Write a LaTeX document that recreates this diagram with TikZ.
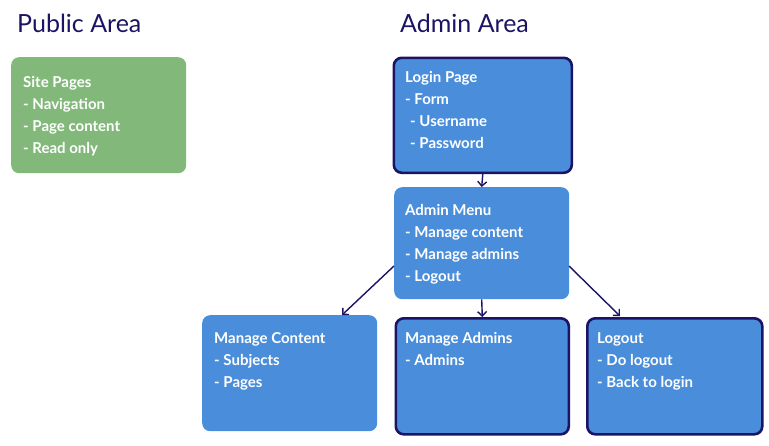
\documentclass[tikz,border=0pt]{standalone}
\usepackage{fontspec}
\setmainfont{Lato}
\usetikzlibrary{arrows.meta}
\definecolor{navy}{HTML}{1B1464}
\definecolor{boxblue}{HTML}{4A8EDB}
\definecolor{boxgreen}{HTML}{82B97B}
\begin{document}
\begin{tikzpicture}[x=1pt,y=-1pt,
  card/.style={rounded corners=8pt, inner sep=0pt, anchor=north west,
               minimum width=175pt, minimum height=116pt},
  bluecard/.style={card, fill=boxblue},
  edged/.style={draw=navy, line width=2.6pt},
  % multi-line texts are placed by the baseline of their last line
  cardtext/.style={anchor=base west, inner sep=0pt, align=left, text=white,
                   font=\fontsize{15}{22}\selectfont\bfseries},
  areatitle/.style={anchor=base west, inner sep=0pt, text=navy,
                    font=\fontsize{25}{30}\selectfont},
  link/.style={draw=navy, line width=1.4pt, -{Straight Barb[length=4.5pt,width=9pt]}}]
\useasboundingbox[fill=white] (0,0) rectangle (769,445);

% section headings
\node[areatitle] (pubT) at (17,32) {Public Area};
\node[areatitle] (admT) at (400,32) {Admin Area};

% cards
\node[card, fill=boxgreen] (site) at (11,57) {};
\node[bluecard, edged, minimum width=178pt, minimum height=115pt] (login) at (392.5,56.5) {};
\node[bluecard, minimum height=112pt] (menu) at (394,187) {};
\node[bluecard] (content) at (202,315) {};
\node[bluecard, edged, minimum width=173pt, minimum height=116pt] (admins) at (394.5,317) {};
\node[bluecard, edged, minimum width=175pt, minimum height=116pt] (logout) at (586,317) {};

% card texts
\node[cardtext] (siteT) at (23,153) {Site Pages\\- Navigation\\- Page content\\- Read only};
\node[cardtext] (loginT) at (405,148) {Login Page\\- Form\\\hspace*{5pt}- Username\\\hspace*{5pt}- Password};
\node[cardtext] (menuT) at (405,281) {Admin Menu\\- Manage content\\- Manage admins\\- Logout};
\node[cardtext] (contentT) at (214,387) {Manage Content\\- Subjects\\- Pages};
\node[cardtext] (adminsT) at (405,365) {Manage Admins\\- Admins};
\node[cardtext] (logoutT) at (597,387) {Logout\\- Do logout\\- Back to login};

% connector ends
\coordinate (menuL) at (394,266);
\coordinate (menuR) at (569,266);
\coordinate (contentIn) at (342,315);
\coordinate (logoutIn) at (620,316);

% connectors
\draw[link] (login.south) -- (menu.north);
\draw[link] (menuL) -- (contentIn);
\draw[link] (menu.south) -- (admins.north);
\draw[link] (menuR) -- (logoutIn);
\end{tikzpicture}
\end{document}
